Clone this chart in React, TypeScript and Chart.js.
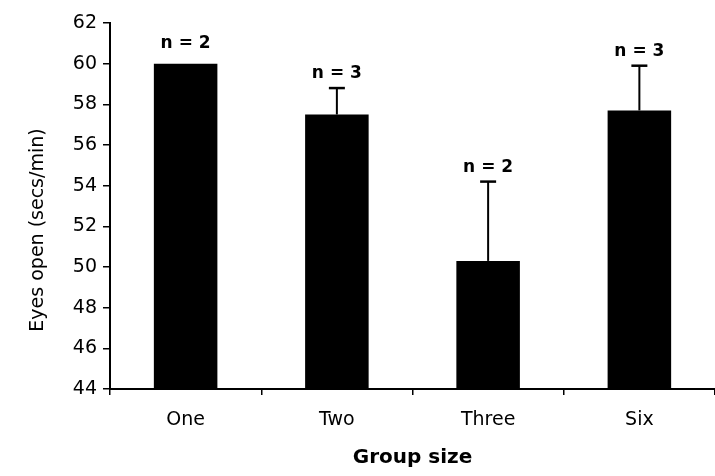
import { useEffect, useRef } from "react";
import { Chart, registerables } from "chart.js";

Chart.register(...registerables);

// Eyes-open time per group size, with upper error bars and sample sizes
const groups = ["One", "Two", "Three", "Six"];
const eyesOpen = [60, 57.5, 50.3, 57.7];
const errorUp = [0, 1.3, 3.9, 2.2];
const sampleSizes = ["n = 2", "n = 3", "n = 2", "n = 3"];
const yMin = 44;
const yMax = 62;
const yStep = 2;
const yTitle = "Eyes open (secs/min)";
const xTitle = "Group size";

const FONT = "'DejaVu Sans', 'Liberation Sans', sans-serif";

// Error bars, "n = ..." labels and the rotated y-axis title
const annotationsPlugin = {
  id: "errorBarsAndLabels",
  afterDatasetsDraw(chart: any) {
    const { ctx, chartArea } = chart;
    const y = chart.scales.y;
    const meta = chart.getDatasetMeta(0);
    ctx.save();
    ctx.strokeStyle = "#000";
    ctx.fillStyle = "#000";
    meta.data.forEach((bar: any, i: number) => {
      const x = bar.x;
      const top = y.getPixelForValue(eyesOpen[i]);
      const errTop = y.getPixelForValue(eyesOpen[i] + errorUp[i]);
      let gap = 16;
      if (errorUp[i] > 0) {
        gap = 10;
        ctx.lineWidth = 2;
        ctx.beginPath();
        ctx.moveTo(x, top);
        ctx.lineTo(x, errTop);
        ctx.stroke();
        ctx.lineWidth = 2.5;
        ctx.beginPath();
        ctx.moveTo(x - 8, errTop);
        ctx.lineTo(x + 8, errTop);
        ctx.stroke();
      }
      ctx.font = `bold 17px ${FONT}`;
      ctx.textAlign = "center";
      ctx.textBaseline = "alphabetic";
      ctx.fillText(sampleSizes[i], x, errTop - gap);
    });

    ctx.translate(38, (chartArea.top + chartArea.bottom) / 2 + 24);
    ctx.rotate(-Math.PI / 2);
    ctx.font = `19px ${FONT}`;
    ctx.textAlign = "center";
    ctx.textBaseline = "middle";
    ctx.fillText(yTitle, 0, 0);
    ctx.restore();
  },
};

export default function App() {
  const canvasRef = useRef<HTMLCanvasElement | null>(null);

  useEffect(() => {
    if (!canvasRef.current) return;
    const chart = new Chart(canvasRef.current, {
      type: "bar",
      data: {
        labels: groups,
        datasets: [
          {
            data: eyesOpen,
            backgroundColor: "#000",
            borderWidth: 0,
            categoryPercentage: 1,
            barPercentage: 0.42,
          },
        ],
      },
      options: {
        responsive: false,
        animation: false,
        devicePixelRatio: 1,
        layout: { padding: { top: 23, right: -4, left: 0, bottom: 0 } },
        plugins: {
          legend: { display: false },
          tooltip: { enabled: false },
        },
        scales: {
          x: {
            grid: {
              display: true,
              drawOnChartArea: false,
              drawTicks: true,
              tickLength: 6,
              color: "#000",
              lineWidth: 1.5,
              offset: true,
            },
            border: { display: true, color: "#000", width: 2 },
            ticks: {
              color: "#000",
              font: { family: FONT, size: 19 },
              padding: 14,
            },
            title: {
              display: true,
              text: xTitle,
              color: "#000",
              font: { family: FONT, size: 20, weight: "bold" },
              padding: { top: 0, bottom: 6 },
            },
            afterFit(scale: any) {
              scale.height = 87;
            },
          },
          y: {
            min: yMin,
            max: yMax,
            grid: {
              display: true,
              drawOnChartArea: false,
              drawTicks: true,
              tickLength: 7,
              color: "#000",
              lineWidth: 1.5,
            },
            border: { display: true, color: "#000", width: 2 },
            ticks: {
              stepSize: yStep,
              color: "#000",
              font: { family: FONT, size: 19 },
              padding: 6,
            },
            afterFit(scale: any) {
              scale.width = 110;
            },
          },
        },
      },
      plugins: [annotationsPlugin],
    });
    return () => chart.destroy();
  }, []);

  return (
    <div style={{ position: "absolute", left: 0, top: 0, width: 715, height: 476, background: "#fff" }}>
      <canvas ref={canvasRef} width={715} height={476} />
    </div>
  );
}
